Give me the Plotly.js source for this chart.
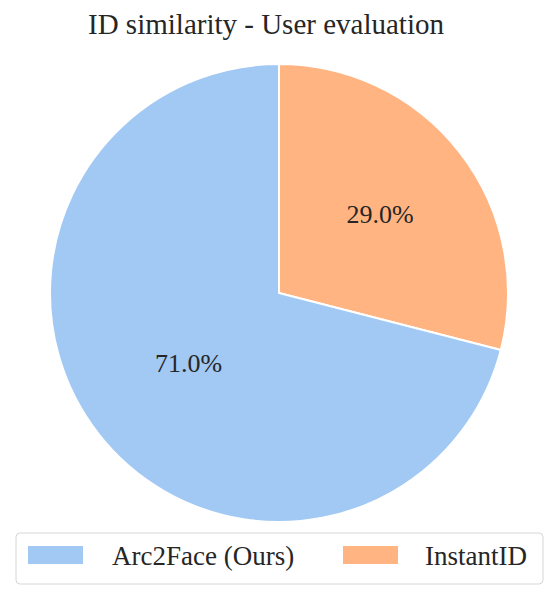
<!DOCTYPE html>
<html>
<head>
<meta charset="utf-8">
<script src="https://cdn.plot.ly/plotly-3.0.1.min.js"></script>
<style>body{margin:0;padding:0;background:#fff;} #chart{width:550px;height:616px;}</style>
</head>
<body>
<div id="chart"></div>
<script>
const categories = ["Arc2Face (Ours)", "InstantID"];
const values = [71.0, 29.0];
const colors = ["#a1c9f4", "#ffb482"];
const chartTitle = "ID similarity - User evaluation";

const FONT = "Liberation Serif, Times New Roman, serif";
const W = 550, H = 616;
const M = {l: 50, r: 42, t: 64, b: 94};
const PW = W - M.l - M.r, PH = H - M.t - M.b;
const px = x => (x - M.l) / PW;
const py = y => (H - M.b - y) / PH;

const shapes = [];
const annotations = [];
// legend box (rounded)
(function(){
  const x0 = px(16), x1 = px(543), y0 = py(533), y1 = py(584);
  const rx = 4 / PW, ry = 4 / PH;
  shapes.push({type: 'path', xref: 'paper', yref: 'paper',
    path: `M${x0+rx},${y0} L${x1-rx},${y0} Q${x1},${y0} ${x1},${y0-ry} L${x1},${y1+ry} Q${x1},${y1} ${x1-rx},${y1} L${x0+rx},${y1} Q${x0},${y1} ${x0},${y1+ry} L${x0},${y0-ry} Q${x0},${y0} ${x0+rx},${y0} Z`,
    line: {color: '#d6d6d6', width: 1}, fillcolor: 'rgba(255,255,255,0.8)'});
})();
const swatchX = [28, 343];
const textX = [110, 423];
categories.forEach((c, i) => {
  shapes.push({type: 'rect', xref: 'paper', yref: 'paper',
    x0: px(swatchX[i]), x1: px(swatchX[i] + 55), y0: py(546), y1: py(564),
    fillcolor: colors[i], line: {width: 0}});
  annotations.push({xref: 'paper', yref: 'paper', x: px(textX[i]), y: py(556),
    xanchor: 'left', yanchor: 'middle', text: c, showarrow: false,
    font: {family: FONT, size: 27, color: '#262626'}});
});

// Plotly places the first slice clockwise from 12 o'clock; the reference has
// the first category running counterclockwise from the top, so feed the slices reversed.
const data = [{
  type: 'pie',
  labels: categories.slice().reverse(),
  values: values.slice().reverse(),
  sort: false,
  direction: 'counterclockwise',
  rotation: 0,
  marker: {colors: colors.slice().reverse(), line: {color: '#ffffff', width: 2}},
  texttemplate: '%{value:.1f}%',
  textposition: 'inside',
  insidetextorientation: 'horizontal',
  textfont: {family: FONT, size: 26, color: '#262626'},
  hoverinfo: 'none',
  showlegend: false
}];

const layout = {
  width: W, height: H,
  margin: M,
  paper_bgcolor: '#ffffff',
  title: {text: chartTitle, font: {family: FONT, size: 29, color: '#262626'},
          x: 266 / W, xref: 'container', xanchor: 'center', y: 1 - 24/H, yref: 'container', yanchor: 'middle'},
  showlegend: false,
  shapes: shapes,
  annotations: annotations
};
Plotly.newPlot('chart', data, layout, {staticPlot: true});
</script>
</body>
</html>
